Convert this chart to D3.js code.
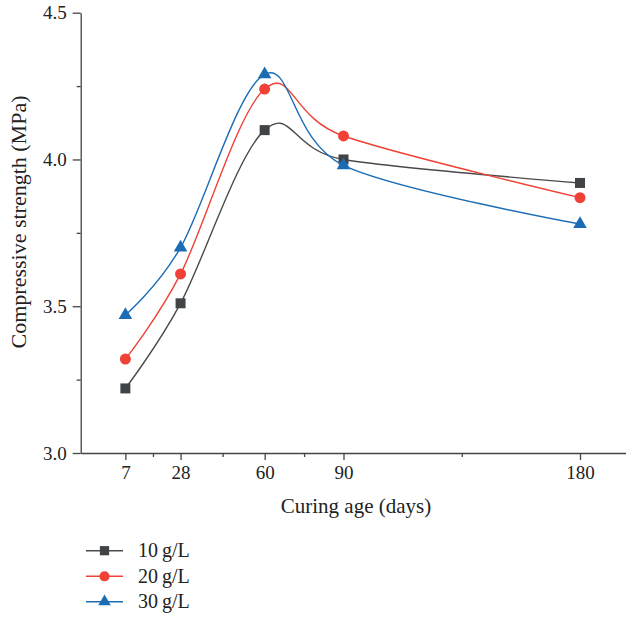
<!DOCTYPE html>
<html>
<head>
<meta charset="utf-8">
<style>
    body { margin: 0; background: #fff; }
    svg { display: block; font-family: "Liberation Serif", "Times New Roman", serif; }
    .axis text { font-family: "Liberation Serif", "Times New Roman", serif; font-size: 19px; fill: #222; }
    .axis path, .axis line { stroke: #444; stroke-width: 1.3; }
</style>
</head>
<body>
<div id="chart"></div>
<script src="https://d3js.org/d3.v7.min.js"></script>
<script>

let days = [7, 28, 60, 90, 180]
let minorDays = [17.5, 44, 75, 135]
let s10 = [3.22, 3.51, 4.10, 4.00, 3.92]
let s20 = [3.32, 3.61, 4.24, 4.08, 3.87]
let s30 = [3.47, 3.70, 4.29, 3.98, 3.78]
let seriesNames = ["10\u2009g/L", "20\u2009g/L", "30\u2009g/L"]
let yTicks = [3.0, 3.5, 4.0, 4.5]
let yMinor = [3.25, 3.75, 4.25]

let width = 626
let height = 618

let colors = ["#404446", "#ef4136", "#1b6cb5"]
let lineColors = ["#4a4a4a", "#ef4136", "#1b6cb5"]
let symbols = [d3.symbolSquare, d3.symbolCircle, d3.symbolTriangle]
let symSize = [100, 95, 80]

let svg = d3.select("#chart")
    .append("svg")
    .attr("width", width)
    .attr("height", height)

let x = d3.scaleLinear()
    .domain([-10, 197.5])
    .range([80.7, 626])

let y = d3.scaleLinear()
    .domain([3, 4.5])
    .range([453, 12.7])

// minor ticks first, then the main axes over them
svg.append("g")
    .attr("class", "axis")
    .attr("transform", `translate(0, ${y(3)})`)
    .call(d3.axisBottom(x).tickValues(minorDays).tickSize(4).tickFormat(""))
    .select(".domain").remove()

svg.append("g")
    .attr("class", "axis")
    .attr("transform", `translate(${x(-10)}, 0)`)
    .call(d3.axisLeft(y).tickValues(yMinor).tickSize(4).tickFormat(""))
    .select(".domain").remove()

let xAxis = svg.append("g")
    .attr("class", "axis")
    .attr("transform", `translate(0, ${y(3)})`)
    .call(d3.axisBottom(x).tickValues(days).tickSize(7).tickSizeOuter(0).tickPadding(6))

let yAxis = svg.append("g")
    .attr("class", "axis")
    .attr("transform", `translate(${x(-10)}, 0)`)
    .call(d3.axisLeft(y).tickValues(yTicks).tickSize(8).tickSizeOuter(0).tickPadding(6)
        .tickFormat(d3.format(".1f")))

svg.append("text")
    .attr("x", 356)
    .attr("y", 513)
    .attr("text-anchor", "middle")
    .style("font-size", "21px")
    .style("fill", "#222")
    .text("Curing age (days)")

svg.append("text")
    .attr("transform", "translate(26, 222) rotate(-90)")
    .attr("text-anchor", "middle")
    .style("font-size", "22px")
    .style("fill", "#222")
    .text("Compressive strength (MPa)")

let allSeries = [s10, s20, s30]

let line = d3.line()
    .x(d => x(d[0]))
    .y(d => y(d[1]))
    .curve(d3.curveCardinal.tension(0))

allSeries.forEach((s, i) => {
    let pts = days.map((d, j) => [d, s[j]])

    svg.append("path")
        .datum(pts)
        .attr("d", line)
        .attr("fill", "none")
        .attr("stroke", lineColors[i])
        .attr("stroke-width", 1.4)

    svg.append("g")
        .selectAll("path")
        .data(pts)
        .join("path")
        .attr("transform", d => `translate(${x(d[0])}, ${y(d[1])})`)
        .attr("d", d3.symbol().type(symbols[i]).size(symSize[i]))
        .attr("fill", colors[i])
})

// legend
let legend = svg.append("g")
let legendY = [550.7, 576.3, 601.7]

seriesNames.forEach((name, i) => {
    let g = legend.append("g")
        .attr("transform", `translate(0, ${legendY[i]})`)
    g.append("line")
        .attr("x1", 86).attr("x2", 123)
        .attr("stroke", lineColors[i])
        .attr("stroke-width", 1.4)
    g.append("path")
        .attr("transform", "translate(104.5, 0)")
        .attr("d", d3.symbol().type(symbols[i]).size(symSize[i] * 0.85))
        .attr("fill", colors[i])
    g.append("text")
        .attr("x", 138)
        .attr("y", 6.5)
        .style("font-size", "20px")
        .style("fill", "#222")
        .text(name)
})

</script>
</body>
</html>
